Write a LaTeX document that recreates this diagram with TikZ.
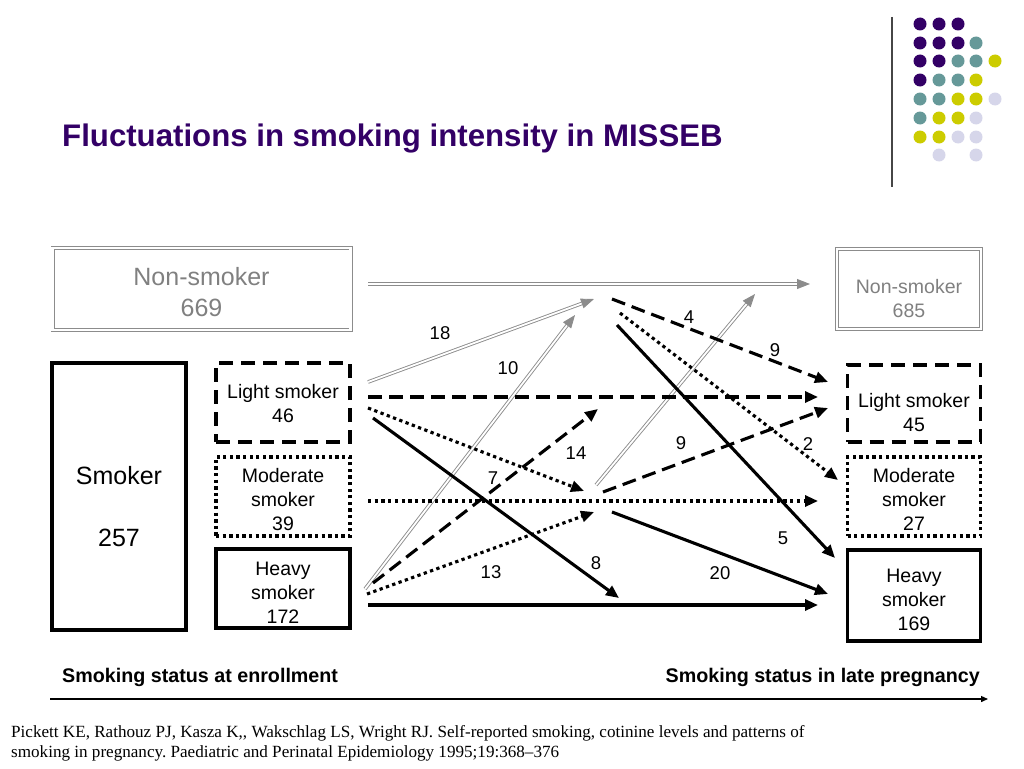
\documentclass[tikz,border=0pt]{standalone}
\usepackage{fontspec}
\setmainfont{Liberation Sans}
\newfontfamily\citefont{Liberation Serif}
\usepackage{tikz}
\usetikzlibrary{arrows.meta}

\definecolor{titlepurple}{RGB}{51,0,102}
\definecolor{dotpurple}{RGB}{51,0,102}
\definecolor{dotteal}{RGB}{102,153,153}
\definecolor{dotolive}{RGB}{204,204,0}
\definecolor{dotlilac}{RGB}{214,214,234}
\definecolor{flowgray}{RGB}{140,140,140}
\definecolor{labelgray}{RGB}{128,128,128}
\definecolor{rulegray}{RGB}{70,70,70}

\tikzset{
  graybox/.style={draw=flowgray, double=white, double distance=2.2pt, line width=0.9pt, inner sep=0pt},
  dashbox/.style={draw, line width=3.5pt, dash pattern=on 14pt off 8pt, inner sep=0pt},
  dotbox/.style={draw, line width=3.5pt, dash pattern=on 3.3pt off 3.3pt, inner sep=0pt},
  solidbox/.style={draw, line width=3.5pt, inner sep=0pt},
  boxtext/.style={draw=none, align=center, inner sep=0pt, font=\fontsize{19.5}{24}\selectfont},
  bigtext/.style={draw=none, align=center, inner sep=0pt, font=\fontsize{25}{31}\selectfont},
  grayflow/.style={draw=flowgray, double=white, double distance=1.8pt, line width=0.9pt,
    -{Triangle[length=13pt, width=10pt]}},
  dashflow/.style={line width=3.1pt, dash pattern=on 14pt off 7pt, -{Triangle[length=13pt, width=11pt]}},
  dotflow/.style={line width=3.1pt, dash pattern=on 3.3pt off 3.4pt, -{Triangle[length=13pt, width=11pt]}},
  solidflow/.style={line width=3.1pt, -{Triangle[length=13pt, width=11pt]}},
  count/.style={inner sep=0pt, font=\fontsize{18.5}{20}\selectfont},
  axislabel/.style={inner sep=0pt, font=\fontsize{19.7}{24}\selectfont\bfseries}
}

\begin{document}
\begin{tikzpicture}[x=1pt, y=-1pt]
\useasboundingbox (0,0) rectangle (1024,768);

% corner decoration
\draw [line width=1.5pt, rulegray] (892,17) -- (892,187);
\foreach \cx/\cy/\cc in {920/24/dotpurple, 939/24/dotpurple, 958/24/dotpurple,
    920/43/dotpurple, 939/43/dotpurple, 958/43/dotpurple, 976/43/dotteal,
    920/61/dotpurple, 939/61/dotpurple, 958/61/dotteal, 976/61/dotteal, 995/61/dotolive,
    920/80/dotpurple, 939/80/dotteal, 958/80/dotteal, 976/80/dotolive,
    920/99/dotteal, 939/99/dotteal, 958/99/dotolive, 976/99/dotolive, 995/99/dotlilac,
    920/118/dotteal, 939/118/dotolive, 958/118/dotolive, 976/118/dotlilac,
    920/137/dotolive, 939/137/dotolive, 958/137/dotlilac, 976/137/dotlilac,
    939/155/dotlilac, 976/155/dotlilac}
  \fill [\cc] (\cx,\cy) circle (6.5pt);

\node [anchor=base west, inner sep=0pt, text=titlepurple, font=\fontsize{31.2}{36}\selectfont\bfseries] (title) at (62,146) {Fluctuations in smoking intensity in MISSEB};

% enrollment
\node [graybox, minimum width=298pt, minimum height=82pt,
  label={[bigtext, text=labelgray, yshift=-3.5pt]center:{Non-smoker\\669}}] (nonL) at (201.5,289) {};
\node [solidbox, minimum width=134pt, minimum height=267pt,
  label={[bigtext, yshift=-10.5pt]center:{Smoker\\[31pt]257}}] (smoker) at (119,496.5) {};
\node [dashbox, minimum width=134pt, minimum height=79pt,
  label={[boxtext, yshift=-1.5pt]center:{Light smoker\\46}}] (lightL) at (283,402.5) {};
\node [dotbox, minimum width=134pt, minimum height=79pt,
  label={[boxtext, yshift=-3pt]center:{Moderate\\smoker\\39}}] (modL) at (283,496.5) {};
\node [solidbox, minimum width=134pt, minimum height=79pt,
  label={[boxtext, yshift=-4.5pt]center:{Heavy\\smoker\\172}}] (heavyL) at (283,588.5) {};

% late pregnancy
\node [graybox, minimum width=144pt, minimum height=80pt,
  label={[boxtext, text=labelgray, yshift=-10pt]center:{Non-smoker\\685}}] (nonR) at (909,289) {};
\node [dashbox, minimum width=133pt, minimum height=77pt,
  label={[boxtext, yshift=-9pt]center:{Light smoker\\45}}] (lightR) at (914,403.5) {};
\node [dotbox, minimum width=133pt, minimum height=79pt,
  label={[boxtext, yshift=-3pt]center:{Moderate\\smoker\\27}}] (modR) at (914,496.5) {};
\node [solidbox, minimum width=133pt, minimum height=91pt,
  label={[boxtext, yshift=-4.5pt]center:{Heavy\\smoker\\169}}] (heavyR) at (914,595.5) {};

% flow ends
\coordinate (nnS) at (368,284);  \coordinate (nnE) at (810,284);
\coordinate (lnS) at (368,382);  \coordinate (lnE) at (594,299);
\coordinate (hnS) at (365,589);  \coordinate (hnE) at (575,315);
\coordinate (mnS) at (596,485);  \coordinate (mnE) at (755,294);
\coordinate (llS) at (368,397);  \coordinate (llE) at (818,397);
\coordinate (hlS) at (373,583);  \coordinate (hlE) at (598,409);
\coordinate (nlS) at (612,299);  \coordinate (nlE) at (828,382);
\coordinate (mlS) at (603,492);  \coordinate (mlE) at (828,408);
\coordinate (mmS) at (368,501);  \coordinate (mmE) at (818,501);
\coordinate (lmS) at (368,408);  \coordinate (lmE) at (584,491);
\coordinate (hmS) at (367,594);  \coordinate (hmE) at (594,512);
\coordinate (nmS) at (620,313);  \coordinate (nmE) at (838,480);
\coordinate (hhS) at (368,605);  \coordinate (hhE) at (818,605);
\coordinate (lhS) at (373,418);  \coordinate (lhE) at (619,598);
\coordinate (nhS) at (617,325);  \coordinate (nhE) at (835,558);
\coordinate (mhS) at (612,512);  \coordinate (mhE) at (828,594);

\draw [grayflow] (nnS) -- (nnE);
\draw [grayflow] (lnS) -- (lnE);
\draw [grayflow] (hnS) -- (hnE);
\draw [grayflow] (mnS) -- (mnE);
\draw [dashflow] (llS) -- (llE);
\draw [dashflow] (hlS) -- (hlE);
\draw [dashflow] (nlS) -- (nlE);
\draw [dashflow] (mlS) -- (mlE);
\draw [dotflow] (mmS) -- (mmE);
\draw [dotflow] (lmS) -- (lmE);
\draw [dotflow] (hmS) -- (hmE);
\draw [dotflow] (nmS) -- (nmE);
\draw [solidflow] (hhS) -- (hhE);
\draw [solidflow] (lhS) -- (lhE);
\draw [solidflow] (nhS) -- (nhE);
\draw [solidflow] (mhS) -- (mhE);

% counts
\node [count] (c18) at (440,333) {18};
\node [count] (c10) at (508,368) {10};
\node [count] (c4) at (689,317) {4};
\node [count] (c9a) at (775,350) {9};
\node [count] (c14) at (576,453) {14};
\node [count] (c9b) at (681,443) {9};
\node [count] (c2) at (808,444) {2};
\node [count] (c7) at (493,478) {7};
\node [count] (c5) at (783,538) {5};
\node [count] (c8) at (596,563) {8};
\node [count] (c13) at (491,572) {13};
\node [count] (c20) at (720,573) {20};

% time axis
\node [axislabel, anchor=base west] (enrol) at (62,682) {Smoking status at enrollment};
\node [axislabel, anchor=base east] (late) at (980,682) {Smoking status in late pregnancy};
\coordinate (axisS) at (50,699);
\coordinate (axisE) at (988,699);
\draw [line width=1.3pt, -{Triangle[length=7pt, width=6pt]}] (axisS) -- (axisE);

\node [anchor=north west, align=left, inner sep=0pt, font=\citefont\fontsize{17.1}{19.5}\selectfont\frenchspacing] (cite) at (11,725.5)
  {Pickett KE, Rathouz PJ, Kasza K,, Wakschlag LS, Wright RJ. Self-reported smoking, cotinine levels and patterns of\\
   smoking in pregnancy. Paediatric and Perinatal Epidemiology 1995;19:368–376};
\end{tikzpicture}
\end{document}
